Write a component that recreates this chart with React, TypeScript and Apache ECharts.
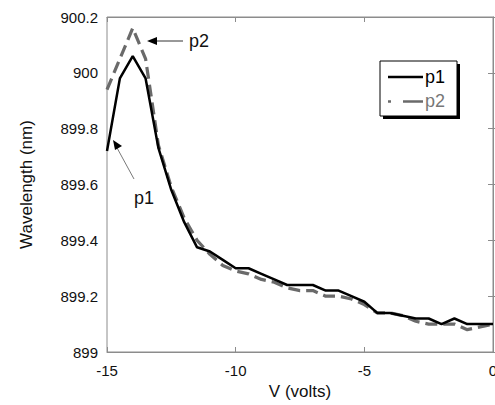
import React, { useEffect, useRef } from "react";
import * as echarts from "echarts";

const voltages = [
  -15, -14.5, -14, -13.5, -13, -12.5, -12, -11.5, -11, -10.5, -10, -9.5, -9, -8.5, -8, -7.5,
  -7, -6.5, -6, -5.5, -5, -4.5, -4, -3.5, -3, -2.5, -2, -1.5, -1, -0.5, 0,
];
const p1 = [
  899.72, 899.98, 900.06, 899.98, 899.73, 899.58, 899.465, 899.375, 899.36, 899.33, 899.3, 899.3,
  899.28, 899.26, 899.24, 899.24, 899.24, 899.22, 899.22, 899.2, 899.18, 899.14, 899.14, 899.13,
  899.12, 899.12, 899.1, 899.12, 899.1, 899.1, 899.1,
];
const p2 = [
  899.94, 900.05, 900.16, 900.05, 899.74, 899.59, 899.48, 899.4, 899.35, 899.31, 899.29, 899.28,
  899.26, 899.25, 899.23, 899.22, 899.22, 899.2, 899.2, 899.19, 899.17, 899.14, 899.14, 899.13,
  899.11, 899.1, 899.1, 899.1, 899.08, 899.09, 899.1,
];
const seriesNames = ["p1", "p2"];
const xTitle = "V (volts)";
const yTitle = "Wavelength (nm)";

const FONT = "Liberation Sans, Arial, sans-serif";
const FRAME = "#8c8c8c";
const GRAY = "#6a6a6a";

export default function App() {
  const ref = useRef<HTMLDivElement>(null);
  useEffect(() => {
    const chart = echarts.init(ref.current!, null, { renderer: "svg" });
    const tickStyle = { inside: true, length: 5, lineStyle: { color: FRAME } };
    chart.setOption({
      animation: false,
      grid: {
        left: 107,
        right: 2,
        top: 17,
        bottom: 53,
        show: true,
        borderColor: FRAME,
        borderWidth: 1,
        containLabel: false,
        outerBoundsMode: "none",
      },
      xAxis: [
        {
          type: "value",
          min: -15,
          max: 0,
          interval: 5,
          position: "bottom",
          name: xTitle,
          nameLocation: "middle",
          nameGap: 29,
          nameTextStyle: { fontFamily: FONT, fontSize: 17, color: "#111" },
          axisLine: { lineStyle: { color: FRAME } },
          axisTick: tickStyle,
          axisLabel: { fontFamily: FONT, fontSize: 15, color: "#111", margin: 11 },
          splitLine: { show: false },
        },
        {
          type: "value",
          min: -15,
          max: 0,
          interval: 5,
          position: "top",
          axisLine: { lineStyle: { color: FRAME } },
          axisTick: tickStyle,
          axisLabel: { show: false },
          splitLine: { show: false },
        },
      ],
      yAxis: [
        {
          type: "value",
          min: 899,
          max: 900.2,
          interval: 0.2,
          position: "left",
          name: yTitle,
          nameLocation: "middle",
          nameGap: 72,
          nameRotate: 90,
          nameTextStyle: { fontFamily: FONT, fontSize: 17, color: "#111" },
          axisLine: { show: true, lineStyle: { color: FRAME } },
          axisTick: { show: true, ...tickStyle },
          axisLabel: {
            fontFamily: FONT,
            fontSize: 15,
            color: "#111",
            margin: 9,
            formatter: (v: number) => String(Math.round(v * 10) / 10),
          },
          splitLine: { show: false },
        },
        {
          type: "value",
          min: 899,
          max: 900.2,
          interval: 0.2,
          position: "right",
          axisLine: { show: true, lineStyle: { color: FRAME } },
          axisTick: { show: true, ...tickStyle },
          axisLabel: { show: false },
          splitLine: { show: false },
        },
      ],
      series: [
        {
          name: seriesNames[1],
          type: "line",
          data: voltages.map((v, i) => [v, p2[i]]),
          showSymbol: false,
          lineStyle: { color: GRAY, width: 3.2, type: [12, 6] },
          z: 2,
        },
        {
          name: seriesNames[0],
          type: "line",
          data: voltages.map((v, i) => [v, p1[i]]),
          showSymbol: false,
          lineStyle: { color: "#000", width: 2.5 },
          z: 3,
        },
      ],
      graphic: [
        { type: "rect", shape: { x: 383, y: 64, width: 77, height: 55 }, style: { fill: "#000" }, z: 10 },
        { type: "rect", shape: { x: 380, y: 61, width: 77, height: 55 }, style: { fill: "#fff", stroke: "#000", lineWidth: 1 }, z: 11 },
        { type: "line", shape: { x1: 388, y1: 77, x2: 423, y2: 77 }, style: { stroke: "#000", lineWidth: 2.5 }, z: 12 },
        { type: "text", x: 425, y: 77, style: { text: seriesNames[0], fontFamily: FONT, fontSize: 18, fill: "#000", verticalAlign: "middle" }, z: 12 },
        { type: "line", shape: { x1: 388, y1: 101.5, x2: 391, y2: 101.5 }, style: { stroke: GRAY, lineWidth: 2.5 }, z: 12 },
        { type: "line", shape: { x1: 403, y1: 101.5, x2: 423, y2: 101.5 }, style: { stroke: GRAY, lineWidth: 2.5 }, z: 12 },
        { type: "text", x: 425, y: 101, style: { text: seriesNames[1], fontFamily: FONT, fontSize: 18, fill: "#777", verticalAlign: "middle" }, z: 12 },
        { type: "line", shape: { x1: 152, y1: 41, x2: 183, y2: 41 }, style: { stroke: "#333", lineWidth: 1 }, z: 12 },
        { type: "polygon", shape: { points: [[147, 41], [157, 37], [157, 45]] }, style: { fill: "#000" }, z: 12 },
        { type: "text", x: 189, y: 41, style: { text: seriesNames[1], fontFamily: FONT, fontSize: 18, fill: "#111", verticalAlign: "middle" }, z: 12 },
        { type: "line", shape: { x1: 116, y1: 146, x2: 134, y2: 179 }, style: { stroke: "#555", lineWidth: 0.8 }, z: 12 },
        { type: "polygon", shape: { points: [[113, 140], [115, 150], [122, 146]] }, style: { fill: "#000" }, z: 12 },
        { type: "text", x: 134, y: 198, style: { text: seriesNames[0], fontFamily: FONT, fontSize: 18, fill: "#111", verticalAlign: "middle" }, z: 12 },
      ],
    });
    return () => chart.dispose();
  }, []);
  return <div ref={ref} style={{ width: 495, height: 405, position: "absolute", left: 0, top: 0 }} />;
}
